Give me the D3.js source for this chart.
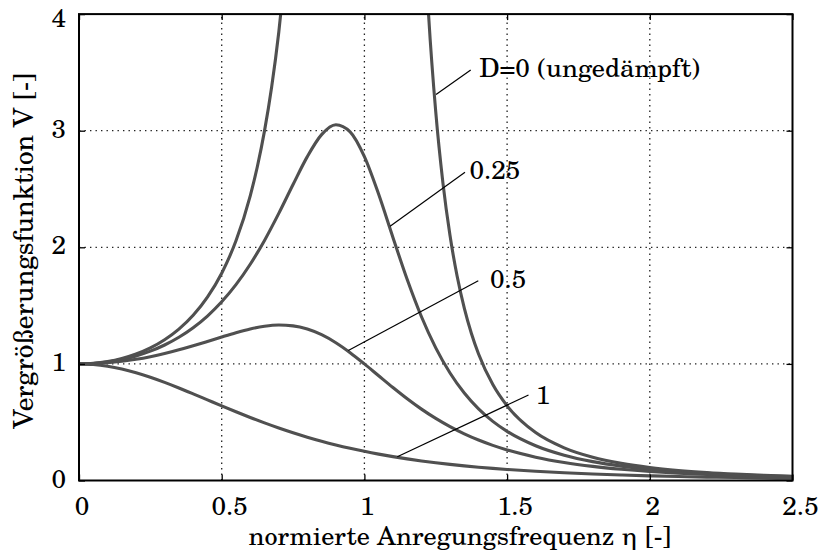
<!DOCTYPE html>
<html>
<head>
<meta charset="utf-8">
<script src="https://cdn.jsdelivr.net/npm/d3@7"></script>
<style>
  html, body { margin: 0; padding: 0; background: #fff; }
  svg { display: block; }
</style>
</head>
<body>
<svg id="chart" width="822" height="551"></svg>
<script>
// ---- data ----
const xTicks = [0, 0.5, 1, 1.5, 2, 2.5];
const xTickLabels = ["0", "0.5", "1", "1.5", "2", "2.5"];
const yTicks = [0, 1, 2, 3, 4];
const yTickLabels = ["0", "1", "2", "3", "4"];
const xTitle = "normierte Anregungsfrequenz η [-]";
const yTitle = "Vergrößerungsfunktion V [-]";

// common eta grid for the damped curves
const etaGrid = [0, 0.05, 0.1, 0.15, 0.2, 0.25, 0.3, 0.35, 0.4, 0.45, 0.5, 0.55, 0.6, 0.65, 0.7,
  0.75, 0.8, 0.85, 0.9, 0.95, 1.0, 1.05, 1.1, 1.15, 1.2, 1.25, 1.3, 1.35, 1.4, 1.45, 1.5,
  1.6, 1.7, 1.8, 1.9, 2.0, 2.1, 2.2, 2.3, 2.4, 2.5];
const vD025 = [1, 1.0041, 1.0166, 1.0378, 1.0684, 1.1094, 1.1621, 1.2283, 1.3103, 1.4106, 1.5326,
  1.6795, 1.8546, 2.0593, 2.2910, 2.5386, 2.7778, 2.9664, 3.0516, 2.9904, 2.7778, 2.4545, 2.0846,
  1.7238, 1.4045, 1.1378, 0.9221, 0.7504, 0.6146, 0.5070, 0.4215, 0.2980, 0.2168, 0.1617, 0.1233,
  0.0958, 0.0757, 0.0607, 0.0492, 0.0404, 0.0335];
const vD05 = [1, 1.0025, 1.0100, 1.0225, 1.0399, 1.0622, 1.0892, 1.1204, 1.1553, 1.1926, 1.2308,
  1.2674, 1.2994, 1.3227, 1.3332, 1.3264, 1.2994, 1.2508, 1.1819, 1.0965, 1.0, 0.8985, 0.7974,
  0.7010, 0.6121, 0.5322, 0.4617, 0.4002, 0.3470, 0.3014, 0.2623, 0.2003, 0.1547, 0.1211, 0.0960,
  0.0769, 0.0624, 0.0511, 0.0422, 0.0352, 0.0296];
const vD1 = [1, 0.9950, 0.9803, 0.9565, 0.9246, 0.8858, 0.8417, 0.7937, 0.7432, 0.6916, 0.64,
  0.5894, 0.5407, 0.4942, 0.4504, 0.4096, 0.3718, 0.3370, 0.3052, 0.2763, 0.25, 0.2262, 0.2047,
  0.1854, 0.1680, 0.1523, 0.1382, 0.1255, 0.1141, 0.1039, 0.0947, 0.0789, 0.0661, 0.0556, 0.0471,
  0.04, 0.0342, 0.0293, 0.0253, 0.0219, 0.0190];

// undamped curve, two branches around resonance
const etaD0Left = [0, 0.05, 0.1, 0.15, 0.2, 0.25, 0.3, 0.35, 0.4, 0.45, 0.5, 0.55, 0.6, 0.625, 0.65, 0.675, 0.7, 0.72];
const vD0Left = [1, 1.0050, 1.0203, 1.0466, 1.0851, 1.1378, 1.2076, 1.2987, 1.4172, 1.5723, 1.7778,
  2.0555, 2.4414, 2.6929, 2.9984, 3.3745, 3.8447, 4.3115];
const etaD0Right = [1.2, 1.225, 1.25, 1.275, 1.3, 1.325, 1.35, 1.375, 1.4, 1.45, 1.5, 1.6, 1.7, 1.8,
  1.9, 2.0, 2.1, 2.2, 2.3, 2.4, 2.5];
const vD0Right = [5.165, 3.99, 3.1605, 2.555, 2.1004, 1.7514, 1.4782, 1.2607, 1.0851, 0.8227, 0.64,
  0.4109, 0.2799, 0.1993, 0.1468, 0.1111, 0.0860, 0.0678, 0.0543, 0.0441, 0.0363];

// annotations (data units): label text, text anchor point, leader start, leader end on curve
const annLabels = ["D=0 (ungedämpft)", "0.25", "0.5", "1"];
const annText = [[1.402, 3.46], [1.368, 2.59], [1.44, 1.648], [1.60, 0.6535]];
const annFrom = [[1.3725, 3.52], [1.3525, 2.643], [1.399, 1.7136], [1.575, 0.733]];
const annTo = [[1.251, 3.31], [1.09, 2.18], [0.9436, 1.115], [1.1153, 0.204]];

// ---- font choice: a serif if one is installed, sized so the x title spans ~423 px ----
const svg = d3.select("#chart");
function measure(family, size, str) {
  const t = svg.append("text").attr("font-family", family).attr("font-size", size).text(str);
  const w = t.node().getComputedTextLength();
  t.remove();
  return w;
}
const probe = "Vergrößerungsfunktion 0123456789 mmmiii";
let family = "serif";
const candidates = ["TeX Gyre Schola", "C059", "Century Schoolbook L", "New Century Schoolbook",
  "Century Schoolbook", "DejaVu Serif", "Noto Serif", "Liberation Serif", "Times New Roman",
  "FreeSerif", "Nimbus Roman", "Nimbus Roman No9 L", "Tinos", "Georgia"];
for (const f of candidates) {
  const a = measure(`'${f}', monospace`, 20, probe);
  const b = measure(`'${f}', sans-serif`, 20, probe);
  const c = measure("monospace", 20, probe);
  if (Math.abs(a - b) < 0.01 && Math.abs(a - c) > 0.5) { family = `'${f}', serif`; break; }
}
const fs = Math.max(18, Math.min(27, 20 * 423 / measure(family, 20, xTitle)));
const fsY = Math.max(fs, Math.min(fs * 1.05, 20 * 356 / measure(family, 20, yTitle)));

// ---- drawing ----
const W = 822, H = 551;
const m = { left: 79, right: 822 - 792.5, top: 14.1, bottom: 551 - 480.5 };
const x = d3.scaleLinear().domain([0, 2.5]).range([m.left, W - m.right]);
const y = d3.scaleLinear().domain([0, 4]).range([H - m.bottom, m.top]);
const gridColor = "#222";
const root = svg.append("g").attr("font-family", family).attr("font-size", fs).attr("fill", "#000");

// grid
const grid = root.append("g");
grid.selectAll("line.vx").data(xTicks.slice(1, -1)).join("line")
  .attr("x1", d => x(d)).attr("x2", d => x(d)).attr("y1", y(0)).attr("y2", y(4))
  .attr("stroke", gridColor).attr("stroke-width", 1.3).attr("stroke-dasharray", "1.4,4.1");
grid.selectAll("line.hy").data(yTicks.slice(1, -1)).join("line")
  .attr("x1", x(0)).attr("x2", x(2.5)).attr("y1", d => y(d)).attr("y2", d => y(d))
  .attr("stroke", gridColor).attr("stroke-width", 1.3).attr("stroke-dasharray", "1.4,4.1");

// clip
svg.append("clipPath").attr("id", "plotclip").append("rect")
  .attr("x", x(0)).attr("y", y(4)).attr("width", x(2.5) - x(0)).attr("height", y(0) - y(4));

const line = d3.line().x(d => x(d[0])).y(d => y(d[1])).curve(d3.curveMonotoneX);
const series = [
  d3.zip(etaD0Left, vD0Left),
  d3.zip(etaD0Right, vD0Right),
  d3.zip(etaGrid, vD025),
  d3.zip(etaGrid, vD05),
  d3.zip(etaGrid, vD1)
];
root.append("g").attr("clip-path", "url(#plotclip)")
  .selectAll("path").data(series).join("path")
  .attr("d", line).attr("fill", "none")
  .attr("stroke", "#505050").attr("stroke-width", 3.1)
  .attr("stroke-linejoin", "round");

// leaders and labels
const idx = annLabels.map((l, i) => i);
root.append("g").selectAll("line").data(idx).join("line")
  .attr("x1", i => x(annFrom[i][0])).attr("y1", i => y(annFrom[i][1]))
  .attr("x2", i => x(annTo[i][0])).attr("y2", i => y(annTo[i][1]))
  .attr("stroke", "#000").attr("stroke-width", 1.2);
root.append("g").selectAll("text").data(idx).join("text")
  .attr("x", i => x(annText[i][0])).attr("y", i => y(annText[i][1]))
  .text(i => annLabels[i]);

// axes (inward ticks on all four sides)
const fmtX = d => xTickLabels[xTicks.indexOf(d)];
const fmtY = d => yTickLabels[yTicks.indexOf(d)];
const gB = root.append("g").attr("transform", `translate(0,${y(0)})`)
  .call(d3.axisBottom(x).tickValues(xTicks).tickFormat(fmtX).tickSizeInner(-6).tickSizeOuter(0));
gB.selectAll("text").attr("y", 34.5).attr("dy", null)
  .attr("dx", d => fmtX(d).includes(".") ? 7.5 : 2.5);
const gT = root.append("g").attr("transform", `translate(0,${y(4)})`)
  .call(d3.axisTop(x).tickValues(xTicks).tickFormat("").tickSizeInner(-6).tickSizeOuter(0));
const gL = root.append("g").attr("transform", `translate(${x(0)},0)`)
  .call(d3.axisLeft(y).tickValues(yTicks).tickFormat(fmtY).tickSizeInner(-6).tickSizeOuter(0));
gL.selectAll("text").attr("x", -13).attr("dy", null)
  .attr("y", d => d === 4 ? 12.6 : 6.6);
const gR = root.append("g").attr("transform", `translate(${x(2.5)},0)`)
  .call(d3.axisRight(y).tickValues(yTicks).tickFormat("").tickSizeInner(-6).tickSizeOuter(0));
[gB, gT, gL, gR].forEach(g => {
  g.attr("font-family", null).attr("font-size", null).attr("fill", null);
  g.select(".domain").remove();
  g.selectAll(".tick line").attr("stroke", "#000").attr("stroke-width", 1.3);
  g.selectAll("text").attr("fill", "#000");
});

// frame
root.append("rect").attr("x", x(0)).attr("y", y(4))
  .attr("width", x(2.5) - x(0)).attr("height", y(0) - y(4))
  .attr("fill", "none").attr("stroke", "#000").attr("stroke-width", 2);

// titles
root.append("text").attr("x", (x(0) + x(2.5)) / 2 + 24).attr("y", 544.5)
  .attr("text-anchor", "middle").text(xTitle);
root.append("text").attr("transform", `translate(33,${(y(0) + y(4)) / 2 + 3.5}) rotate(-90)`)
  .attr("text-anchor", "middle").attr("font-size", fsY).text(yTitle);
</script>
</body>
</html>
